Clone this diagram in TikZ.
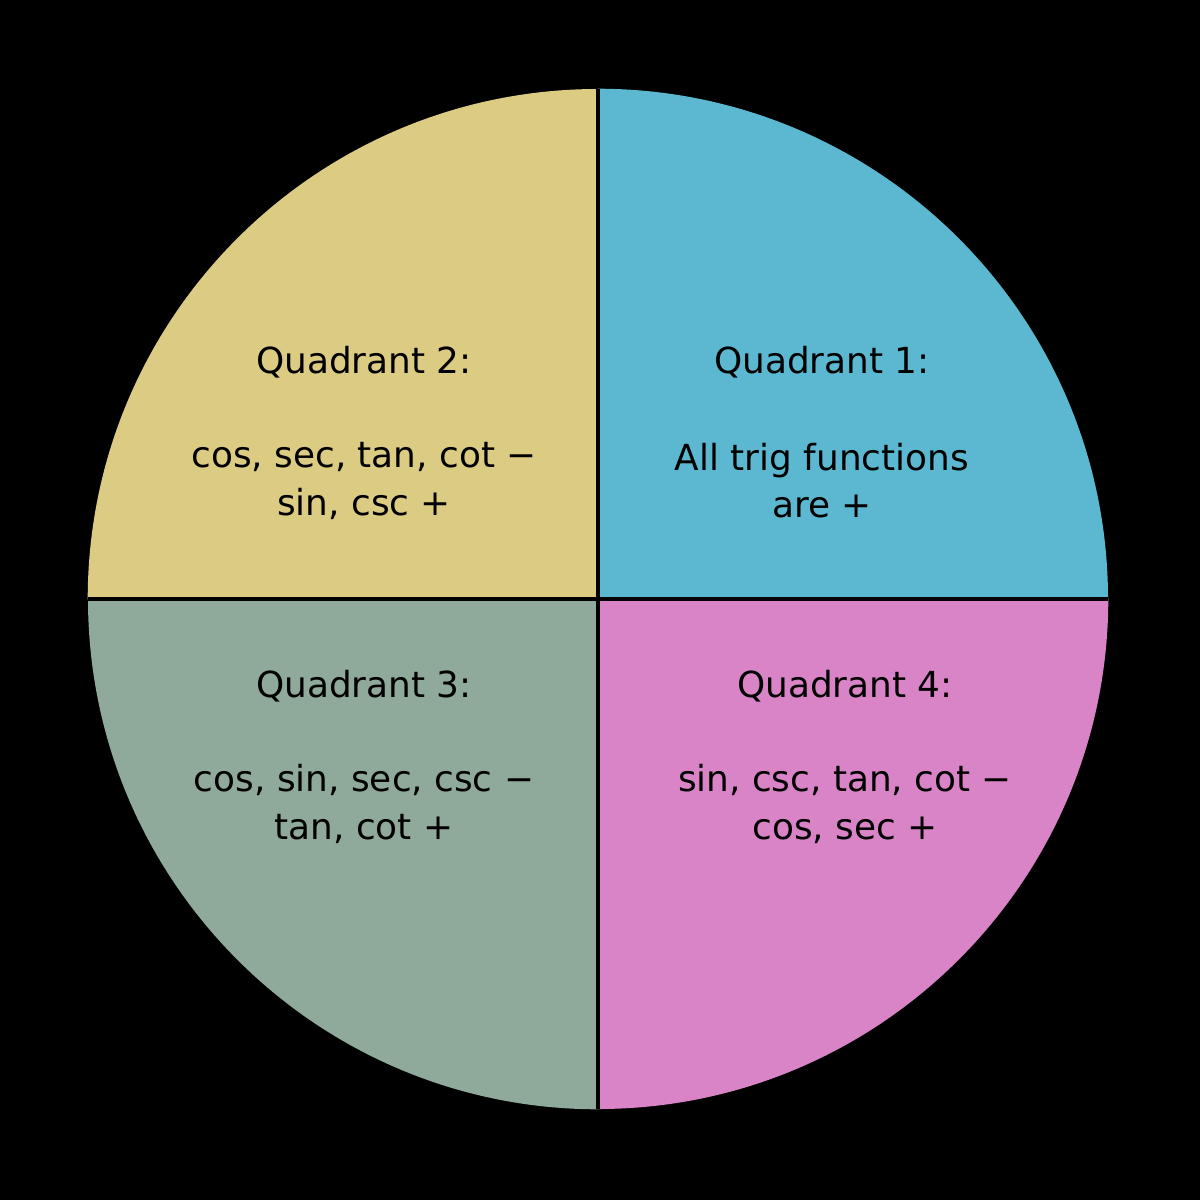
\documentclass[tikz,border=0pt]{standalone}
\usepackage{fontspec}
\setmainfont{DejaVu Sans}
\begin{document}
\begin{tikzpicture}[x=0.01cm,y=-0.01cm,
  lbl/.style={font=\fontsize{10.2pt}{13.4pt}\selectfont,align=center,text=black}]
\definecolor{qone}{HTML}{5CB8D0}
\definecolor{qtwo}{HTML}{DCCB82}
\definecolor{qthree}{HTML}{8FAA9A}
\definecolor{qfour}{HTML}{DA84C8}
\fill[black] (0,0) rectangle (1200,1200);
\useasboundingbox (0,0) rectangle (1200,1200);
\coordinate (c) at (598,599);
\fill[qone] (c) -- ++(510,0) arc[start angle=0,end angle=90,radius=5.1cm] -- cycle;
\fill[qtwo] (c) -- ++(0,-510) arc[start angle=90,end angle=180,radius=5.1cm] -- cycle;
\fill[qthree] (c) -- ++(-510,0) arc[start angle=180,end angle=270,radius=5.1cm] -- cycle;
\fill[qfour] (c) -- ++(0,510) arc[start angle=270,end angle=360,radius=5.1cm] -- cycle;
\draw[black,line width=1.1pt] (598,89) -- (598,1109) (88,599) -- (1108,599);
\node[lbl] (q1) at (822,362) {Quadrant 1:};
\node[lbl] (t1) at (822,481) {All trig functions\\are +};
\node[lbl] (q2) at (364,362) {Quadrant 2:};
\node[lbl] (t2) at (364,481) {cos, sec, tan, cot −\\sin, csc +};
\node[lbl] (q3) at (364,686) {Quadrant 3:};
\node[lbl] (t3) at (364,804) {cos, sin, sec, csc −\\tan, cot +};
\node[lbl] (q4) at (845,686) {Quadrant 4:};
\node[lbl] (t4) at (845,804) {sin, csc, tan, cot −\\cos, sec +};
\end{tikzpicture}
\end{document}
